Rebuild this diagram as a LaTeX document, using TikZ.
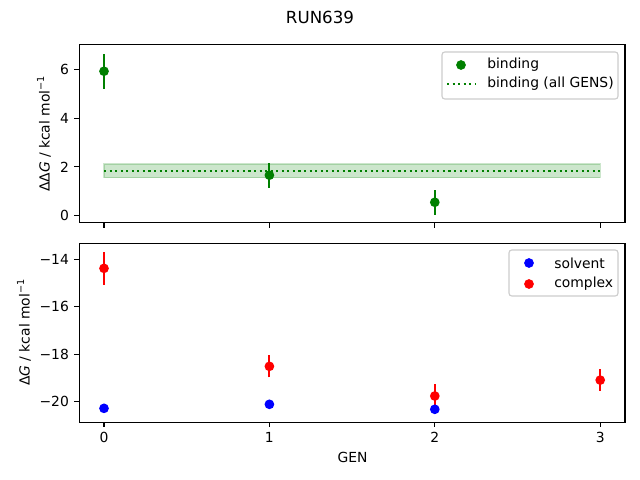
\documentclass[tikz,border=0pt]{standalone}
\usepackage{fontspec}
\setmainfont{DejaVu Sans}
\definecolor{mplgreen}{HTML}{008000}
\definecolor{mplblue}{HTML}{0000FF}
\definecolor{mplred}{HTML}{FF0000}
\newcommand{\perkcal}{kcal mol\raisebox{0.75ex}{\fontsize{7}{8}\selectfont −1}}
\begin{document}
\begin{tikzpicture}[x=0.72pt, y=0.72pt, font=\fontsize{10}{12}\selectfont,
  dot/.style = {circle, inner sep=0pt, minimum size=7pt},
  spine/.style = {draw, line width=0.8pt},
  tickmark/.style = {line width=0.8pt},
  bar/.style = {line width=1.5pt},
  lbox/.style = {draw=black!20, fill=white, fill opacity=0.8, rounded corners=2pt, line width=0.8pt}]
\useasboundingbox (0,0) rectangle (640,480);

\node[font=\fontsize{12}{14}\selectfont] (title) at (320,463) {RUN639};

% top panel: binding
\begin{scope}[shift={(104,264.3)}, xscale=165.4, yscale=24.4]
  \fill[mplgreen, fill opacity=0.2, draw opacity=0.2, draw, line width=1pt] (0,1.56) rectangle (3,2.12);
  \draw[mplgreen, bar, dash pattern=on 1.5pt off 2.5pt] (0,1.84) -- (3,1.84);
  \foreach \g/\v/\e in {0/5.92/0.72, 1/1.66/0.51, 2/0.55/0.52}
    \draw[mplgreen, bar] (\g,\v-\e) -- (\g,\v+\e);
  \foreach \g/\v in {0/5.92, 1/1.66, 2/0.55}
    \node[dot, fill=mplgreen] (b\g) at (\g,\v) {};
  \draw[spine] (-0.15,-0.29) rectangle (3.15,7.0);
  \foreach \g in {0,1,2,3}
    \coordinate (tx\g) at (\g,-0.29);
  \foreach \v in {0,2,4,6}
    \coordinate (ty\v) at (-0.15,\v);
\end{scope}
\foreach \g in {0,1,2,3}
  \draw[tickmark] (tx\g) -- ([yshift=-3.5pt]tx\g);
\foreach \v in {0,2,4,6}
  \draw[tickmark] (ty\v) -- ([xshift=-3.5pt]ty\v) node[left=3.5pt, inner sep=0pt] {\v};
\node[rotate=90] (ddglabel) at (44,346) {ΔΔ\textit{G} / \perkcal};

% top legend
\node[lbox, minimum width=176*0.72pt, minimum height=47*0.72pt] (leg1) at (530,404.5) {};
\node[dot, fill=mplgreen] (leg1dot) at (461,415) {};
\node[anchor=west, inner sep=0pt] (leg1a) at (487,415) {binding};
\coordinate (leg1l) at (447,396);
\coordinate (leg1r) at (475,396);
\draw[mplgreen, bar, dash pattern=on 1.5pt off 2.5pt] (leg1l) -- (leg1r);
\node[anchor=west, inner sep=0pt] (leg1b) at (487,396) {binding (all GENS)};

% bottom panel: solvent and complex
\begin{scope}[shift={(104,552.9)}, xscale=165.4, yscale=23.73]
  \foreach \g/\v/\e in {0/-14.38/0.70, 1/-18.51/0.46, 2/-19.76/0.50, 3/-19.09/0.45}
    \draw[mplred, bar] (\g,\v-\e) -- (\g,\v+\e);
  \foreach \g/\v in {0/-20.28, 1/-20.11, 2/-20.32}
    \draw[mplblue, bar] (\g,\v-0.1) -- (\g,\v+0.1);
  \foreach \g/\v in {0/-20.28, 1/-20.11, 2/-20.32}
    \node[dot, fill=mplblue] (s\g) at (\g,\v) {};
  \foreach \g/\v in {0/-14.38, 1/-18.51, 2/-19.76, 3/-19.09}
    \node[dot, fill=mplred] (c\g) at (\g,\v) {};
  \draw[spine] (-0.15,-20.86) rectangle (3.15,-13.33);
  \foreach \g in {0,1,2,3}
    \coordinate (bx\g) at (\g,-20.86);
  \foreach \v [count=\i] in {20,18,16,14}
    \coordinate (by\i) at (-0.15,-\v);
\end{scope}
\foreach \g in {0,1,2,3}
  \draw[tickmark] (bx\g) -- ([yshift=-3.5pt]bx\g) node[below=3.5pt, inner sep=0pt] {\g};
\foreach \v [count=\i] in {20,18,16,14}
  \draw[tickmark] (by\i) -- ([xshift=-3.5pt]by\i) node[left=3.5pt, inner sep=0pt] {−\v};
\node[rotate=90] (dglabel) at (24,147.4) {Δ\textit{G} / \perkcal};
\node (genlabel) at (352.6,23) {GEN};

% bottom legend
\node[lbox, minimum width=109*0.72pt, minimum height=46*0.72pt] (leg2) at (563.5,207) {};
\node[dot, fill=mplblue] (leg2dot1) at (529,217) {};
\node[anchor=west, inner sep=0pt] (leg2a) at (554,217) {solvent};
\node[dot, fill=mplred] (leg2dot2) at (529,196) {};
\node[anchor=west, inner sep=0pt] (leg2b) at (554,196) {complex};
\end{tikzpicture}
\end{document}
